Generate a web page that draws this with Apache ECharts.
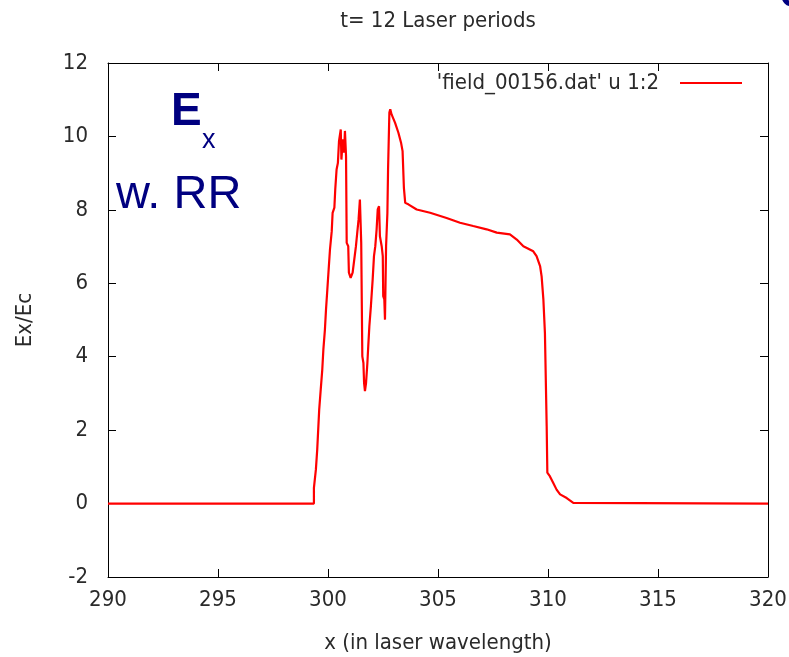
<!DOCTYPE html>
<html><head><meta charset="utf-8">
<script src="https://cdn.jsdelivr.net/npm/echarts@6/dist/echarts.min.js"></script>
<style>html,body{margin:0;padding:0;background:#fff}#c{width:789px;height:657px}</style>
</head><body><div id="c"></div>
<script>
const titleText = "t= 12 Laser periods";
const seriesName = "'field_00156.dat' u 1:2";
const xName = "x (in laser wavelength)";
const yName = "Ex/Ec";
const xTicks = [290, 295, 300, 305, 310, 315, 320];
const yTicks = [-2, 0, 2, 4, 6, 8, 10, 12];

const xs = [290, 299.36, 299.36, 299.41, 299.45, 299.51, 299.60, 299.67, 299.74, 299.79, 299.86, 299.91, 299.97, 300.03, 300.09, 300.17, 300.21, 300.29, 300.33, 300.39, 300.45, 300.50, 300.58, 300.61, 300.67, 300.73, 300.77, 300.82, 300.85, 300.92, 300.95, 301.03, 301.12, 301.21, 301.27, 301.33, 301.39, 301.45, 301.50, 301.51, 301.56, 301.61, 301.64, 301.68, 301.73, 301.79, 301.83, 301.88, 301.95, 302.03, 302.09, 302.15, 302.21, 302.26, 302.32, 302.36, 302.44, 302.49, 302.51, 302.56, 302.59, 302.64, 302.70, 302.73, 302.79, 302.83, 302.89, 303.05, 303.20, 303.32, 303.39, 303.45, 303.51, 303.65, 303.73, 304.03, 304.64, 305.39, 306.00, 306.60, 307.21, 307.67, 308.27, 308.58, 308.88, 309.33, 309.48, 309.64, 309.71, 309.79, 309.86, 309.94, 309.97, 310.09, 310.24, 310.39, 310.55, 310.85, 311.15, 320];
const ys = [0, 0, 0.43, 0.43, 0.93, 1.47, 2.56, 3.11, 3.65, 4.20, 4.74, 5.29, 5.83, 6.38, 6.92, 7.42, 7.92, 8.06, 8.56, 9.10, 9.28, 9.87, 10.19, 9.37, 9.92, 9.56, 10.15, 9.46, 7.10, 7.01, 6.29, 6.15, 6.29, 6.29, 7.01, 7.38, 7.74, 8.28, 8.28, 7.10, 4.01, 3.83, 3.29, 3.06, 3.29, 3.83, 4.29, 4.83, 5.38, 6.10, 6.74, 7.01, 7.47, 8.01, 8.10, 7.28, 7.01, 6.74, 5.65, 5.56, 5.01, 7.01, 7.92, 9.10, 10.65, 10.74, 10.60, 10.37, 10.10, 9.83, 9.60, 8.60, 8.19, 8.15, 8.10, 8.01, 7.92, 7.78, 7.65, 7.56, 7.47, 7.38, 7.33, 7.19, 7.01, 6.87, 6.74, 6.47, 6.19, 5.56, 4.65, 2.11, 0.84, 0.74, 0.56, 0.38, 0.25, 0.15, 0.02, 0];

const data = xs.map((x, i) => [x, ys[i]]);
const FONT = "'DejaVu Sans Condensed', 'DejaVu Sans'";
const TXT = "#2a2a2a";
const FS = 22;

const chart = echarts.init(document.getElementById('c'), null, {renderer: 'canvas'});
const baseX = {
  type: 'value', min: xTicks[0], max: xTicks[xTicks.length - 1], interval: 5,
  axisLine: {show: true, onZero: false, lineStyle: {color: '#000', width: 1}},
  axisTick: {show: true, inside: true, length: 8, lineStyle: {color: '#000'}},
  splitLine: {show: false}
};
const baseY = {
  type: 'value', min: yTicks[0], max: yTicks[yTicks.length - 1], interval: 2,
  axisLine: {show: true, onZero: false, lineStyle: {color: '#000', width: 1}},
  axisTick: {show: true, inside: true, length: 8, lineStyle: {color: '#000'}},
  splitLine: {show: false}
};
chart.setOption({
  animation: false,
  backgroundColor: '#fff',
  title: {text: titleText, left: 433, top: 5, textAlign: 'center',
    textStyle: {fontFamily: FONT, fontSize: FS, fontWeight: 'normal', color: TXT}},
  grid: {left: 108, right: 21, top: 63, bottom: 80, containLabel: false, outerBoundsMode: 'none'},
  legend: {show: true, right: 42, top: 67, itemWidth: 62, itemHeight: 2, itemGap: 0,
    icon: 'rect', align: 'right',
    textStyle: {fontFamily: FONT, fontSize: FS, color: TXT, padding: [0, 16, 0, 0]},
    data: [{name: seriesName, icon: 'rect'}]},
  xAxis: [
    Object.assign({}, baseX, {position: 'bottom', name: xName, nameLocation: 'middle', nameGap: 55,
      nameTextStyle: {fontFamily: FONT, fontSize: FS, color: TXT},
      axisLabel: {show: true, margin: 12, fontFamily: FONT, fontSize: FS, color: TXT,
        showMinLabel: true, showMaxLabel: true}}),
    Object.assign({}, baseX, {position: 'top', axisLabel: {show: false}})
  ],
  yAxis: [
    Object.assign({}, baseY, {position: 'left', name: yName, nameLocation: 'middle', nameGap: 72,
      nameRotate: 90,
      nameTextStyle: {fontFamily: FONT, fontSize: FS, color: TXT},
      axisLabel: {show: true, margin: 20, fontFamily: FONT, fontSize: FS, color: TXT,
        showMinLabel: true, showMaxLabel: true}}),
    Object.assign({}, baseY, {position: 'right', axisLabel: {show: false}})
  ],
  series: [{
    name: seriesName, type: 'line', data: data, showSymbol: false, symbol: 'none',
    lineStyle: {color: '#ff0000', width: 2.2}, itemStyle: {color: '#ff0000'},
    xAxisIndex: 0, yAxisIndex: 0
  }],
  graphic: [
    {type: 'text', left: 171, top: 89, style: {text: 'E', font: 'bold 46px "Liberation Sans"', fill: '#000080'}},
    {type: 'text', left: 202, top: 127, style: {text: 'x', font: '27px "Liberation Sans"', fill: '#000080'}},
    {type: 'text', left: 116, top: 172, style: {text: 'w. RR', font: '47px "Liberation Sans"', fill: '#000080'}},
    {type: 'circle', shape: {cx: 792, cy: -4, r: 8}, style: {fill: 'none', stroke: '#000080', lineWidth: 5}}
  ]
});
</script></body></html>
